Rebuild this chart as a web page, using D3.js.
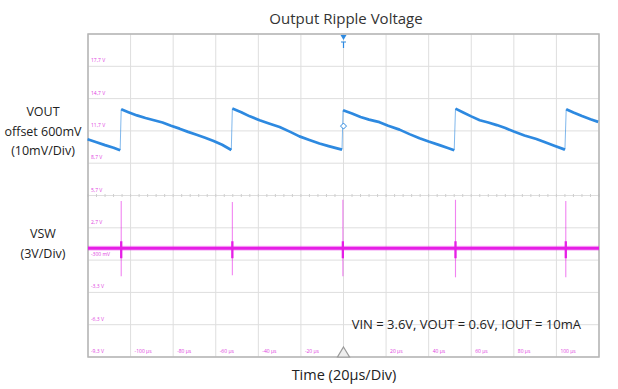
<!DOCTYPE html>
<meta charset="utf-8">
<head>
	<script src="https://cdn.jsdelivr.net/npm/d3@7"></script>
	<style>
		body { margin: 0; background: #fff; }
		text { font-family: "Open Sans", "Noto Sans", sans-serif; }
		.grid { stroke: #dedede; stroke-width: 1px; }
		.lbl { fill: #e040e0; font-size: 5px; }
	</style>
</head>
<body>
<div id="scope"></div>
<script>
	// time axis (us), 20us/div
	var timeTicks = [-120, -100, -80, -60, -40, -20, 0, 20, 40, 60, 80, 100, 120];
	var timeLabels = ["", "-100 µs", "-80 µs", "-60 µs", "-40 µs", "-20 µs", "", "20 µs", "40 µs", "60 µs", "80 µs", "100 µs", ""];
	// ch2 (VSW) graticule, 3V/div
	var ch2Ticks = [20.7, 17.7, 14.7, 11.7, 8.7, 5.7, 2.7, -0.3, -3.3, -6.3, -9.3];
	var ch2Labels = ["", "17,7 V", "14,7 V", "11,7 V", "8,7 V", "5,7 V", "2,7 V", "-300 mV", "-3,3 V", "-6,3 V", "-9,3 V"];

	// VOUT ripple in mV, one array per ramp (split at the jumps)
	var vout0 = [[-120.2,617.4],[-116,616.5],[-112,615.6],[-108,614.8],[-104.9,614.0]];
	var vout1 = [[-104.4,626.7],[-101,625.8],[-97,624.8],[-93,624.0],[-89,623.3],[-85,622.6],[-81,621.6],[-77,620.7],[-73,619.7],[-69,618.8],[-65,617.9],[-61,616.9],[-57,615.7],[-52.7,614.1]];
	var vout2 = [[-52.2,626.9],[-48,625.8],[-44,624.5],[-39.4,623.3],[-35,622.3],[-30,621.2],[-25,619.7],[-20.7,618.3],[-16,617.2],[-11.3,616.1],[-7,615.3],[-3,614.6],[-0.7,614.2]];
	var vout3 = [[-0.2,626.4],[4,625.4],[8,624.3],[12,623.5],[16.9,622.7],[21,621.6],[26.3,620.4],[31,619.0],[35.7,617.7],[40,616.7],[45.1,615.6],[49,614.7],[52,614.0]];
	var vout4 = [[52.6,626.9],[56,625.8],[60,624.5],[64,623.3],[68,622.6],[72,621.8],[76,620.9],[80,619.8],[85,618.6],[90.6,617.5],[95,616.4],[99,615.4],[104,614.2]];
	var vout5 = [[104.6,626.7],[108,625.7],[112,624.6],[116,623.6],[119.6,622.8]];

	// VSW: baseline level and switching spikes (V)
	var vswBase = 0.8;
	var spikeTimes = [-104.4, -52.2, -0.3, 52.6, 104.4];
	var spikeHigh = [5.2, 5.1, 5.3, 5.3, 5.2];
	var spikeLow = [-1.8, -1.7, -1.8, -1.9, -1.9];

	var W = 618, H = 389;
	var plot = {left: 88, right: 599, top: 34, bottom: 357};

	var svg = d3.select("#scope").append("svg")
		.attr("width", W).attr("height", H);

	var x = d3.scaleLinear().domain([-120, 120]).range([plot.left, plot.right]);
	var yCh1 = d3.scaleLinear().domain([550, 650]).range([plot.bottom, plot.top]);
	var yCh2 = d3.scaleLinear().domain([-9.3, 20.7]).range([plot.bottom, plot.top]);

	// graticule
	var g = svg.append("g");
	g.selectAll(".vg").data(timeTicks).enter().append("line")
		.attr("class", "grid")
		.attr("x1", d => x(d)).attr("x2", d => x(d))
		.attr("y1", plot.top).attr("y2", plot.bottom);
	g.selectAll(".hg").data(ch2Ticks).enter().append("line")
		.attr("class", "grid")
		.attr("x1", plot.left).attr("x2", plot.right)
		.attr("y1", d => yCh2(d)).attr("y2", d => yCh2(d));

	// minor ticks on the horizontal centre line
	var minor = d3.range(-120, 121, 4);
	g.selectAll(".mt").data(minor).enter().append("line")
		.attr("stroke", "#cfcfcf")
		.attr("x1", d => x(d)).attr("x2", d => x(d))
		.attr("y1", yCh2(5.7) - 1.5).attr("y2", yCh2(5.7) + 1.5);

	// frame
	svg.append("rect")
		.attr("x", plot.left).attr("y", plot.top)
		.attr("width", plot.right - plot.left).attr("height", plot.bottom - plot.top)
		.attr("fill", "none").attr("stroke", "#b5b5b5").attr("stroke-width", 1.5);

	// magenta scale labels
	g.selectAll(".yl").data(ch2Ticks).enter().append("text")
		.attr("class", "lbl")
		.attr("x", plot.left + 3).attr("y", d => yCh2(d) - 4)
		.text((d, i) => ch2Labels[i]);
	g.selectAll(".xl").data(timeTicks).enter().append("text")
		.attr("class", "lbl")
		.attr("x", d => x(d) + 4).attr("y", plot.bottom - 4)
		.text((d, i) => timeLabels[i]);

	// VOUT trace
	var segs = [vout0, vout1, vout2, vout3, vout4, vout5];
	var line1 = d3.line().x(d => x(d[0])).y(d => yCh1(d[1]));
	var blue = "#2d89e0";
	segs.forEach(function(s, i) {
		if (i > 0) {
			var a = segs[i - 1][segs[i - 1].length - 1], b = s[0];
			svg.append("line")
				.attr("x1", x(a[0])).attr("y1", yCh1(a[1]))
				.attr("x2", x(b[0])).attr("y2", yCh1(b[1]))
				.attr("stroke", blue).attr("stroke-opacity", 0.6).attr("stroke-width", 1);
		}
		svg.append("path").datum(s)
			.attr("d", line1)
			.attr("fill", "none").attr("stroke", blue)
			.attr("stroke-width", 2.7).attr("stroke-linejoin", "round");
	});

	// VSW trace
	var magenta = "#e61ee6";
	svg.append("line")
		.attr("x1", x(-120)).attr("x2", x(120))
		.attr("y1", yCh2(vswBase)).attr("y2", yCh2(vswBase))
		.attr("stroke", magenta).attr("stroke-width", 5).attr("stroke-opacity", 0.3);
	svg.append("line")
		.attr("x1", x(-120)).attr("x2", x(120))
		.attr("y1", yCh2(vswBase)).attr("y2", yCh2(vswBase))
		.attr("stroke", magenta).attr("stroke-width", 2.8);
	spikeTimes.forEach(function(t, i) {
		svg.append("line")
			.attr("x1", x(t)).attr("x2", x(t))
			.attr("y1", yCh2(spikeHigh[i])).attr("y2", yCh2(spikeLow[i]))
			.attr("stroke", magenta).attr("stroke-opacity", 0.55).attr("stroke-width", 1.1);
		svg.append("line")
			.attr("x1", x(t)).attr("x2", x(t))
			.attr("y1", yCh2(vswBase) - 7).attr("y2", yCh2(vswBase) + 10)
			.attr("stroke", magenta).attr("stroke-width", 2.3);
	});

	// trigger / ground markers
	var cx = x(0);
	svg.append("path")
		.attr("d", `M${cx-3},${plot.top+1} L${cx+3},${plot.top+1} L${cx},${plot.top+6} Z`)
		.attr("fill", blue);
	svg.append("path")
		.attr("d", `M${cx-2.5},${plot.top+8} L${cx+2.5},${plot.top+8} M${cx},${plot.top+8} L${cx},${plot.top+14}`)
		.attr("stroke", blue).attr("stroke-width", 1.2);
	svg.append("path")
		.attr("d", `M${cx},${yCh1(621.5)-3} L${cx+3},${yCh1(621.5)} L${cx},${yCh1(621.5)+3} L${cx-3},${yCh1(621.5)} Z`)
		.attr("fill", "#fff").attr("stroke", blue).attr("stroke-width", 1);
	svg.append("path")
		.attr("d", `M${cx},${plot.bottom-10} L${cx+6},${plot.bottom} L${cx-6},${plot.bottom} Z`)
		.attr("fill", "#eee").attr("stroke", "#999").attr("stroke-width", 1.2);

	// texts
	svg.append("text").attr("x", 346).attr("y", 24)
		.attr("text-anchor", "middle").style("font-size", "15px").attr("fill", "#333")
		.text("Output Ripple Voltage");
	svg.append("text").attr("x", 344).attr("y", 380)
		.attr("text-anchor", "middle").style("font-size", "14.5px").attr("fill", "#222")
		.text("Time (20µs/Div)");
	var left = [["VOUT", 116], ["offset 600mV", 136], ["(10mV/Div)", 155], ["VSW", 238], ["(3V/Div)", 258]];
	svg.selectAll(".ll").data(left).enter().append("text")
		.attr("x", 43).attr("y", d => d[1])
		.attr("text-anchor", "middle").style("font-size", "12.5px").attr("fill", "#222")
		.text(d => d[0]);
	svg.append("text").attr("x", 581).attr("y", 329)
		.attr("text-anchor", "end").style("font-size", "13px").attr("fill", "#222")
		.text("VIN = 3.6V, VOUT = 0.6V, IOUT = 10mA");
</script>
</body>
</html>
